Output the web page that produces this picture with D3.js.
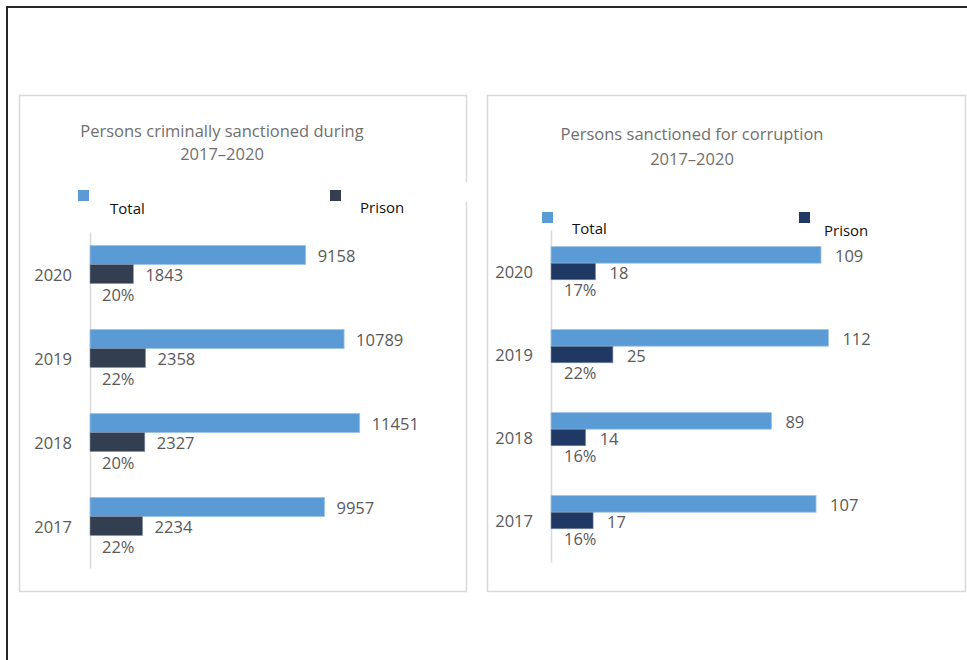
<!DOCTYPE html>
<html>
<head>
<meta charset="utf-8">
<script src="https://cdn.jsdelivr.net/npm/d3@7"></script>
<style>
  html, body { margin: 0; padding: 0; background: #fff; }
  svg { display: block; font-family: "Open Sans", "Liberation Sans", sans-serif; }
</style>
</head>
<body>
<svg id="chart" width="967" height="660"></svg>
<script>
// ---- data ----
const years = ["2020", "2019", "2018", "2017"];
const seriesNames = ["Total", "Prison"];

const criminalTitle = ["Persons criminally sanctioned during", "2017\u20132020"];
const criminalTotal = [9158, 10789, 11451, 9957];
const criminalPrison = [1843, 2358, 2327, 2234];
const criminalShare = ["20%", "22%", "20%", "22%"];

const corruptionTitle = ["Persons sanctioned for corruption", "2017\u20132020"];
const corruptionTotal = [109, 112, 89, 107];
const corruptionPrison = [18, 25, 14, 17];
const corruptionShare = ["17%", "22%", "16%", "16%"];

const svg = d3.select("#chart");

// outer frame (top and left edges)
svg.append("path")
  .attr("d", "M7,660 V7 H967")
  .attr("fill", "none").attr("stroke", "#262626").attr("stroke-width", 2);

function panel(cfg) {
  const g = svg.append("g");
  // panel border
  g.append("rect")
    .attr("x", cfg.box[0] + 0.5).attr("y", cfg.box[1] + 0.5)
    .attr("width", cfg.box[2]).attr("height", cfg.box[3])
    .attr("fill", "#fff").attr("stroke", "#d9d9d9").attr("stroke-width", 1.5);
  if (cfg.borderGap) {
    g.append("rect").attr("x", cfg.borderGap[0]).attr("y", cfg.borderGap[1])
      .attr("width", cfg.borderGap[2]).attr("height", cfg.borderGap[3]).attr("fill", "#fff");
  }
  // title
  cfg.title.forEach((t, i) => {
    g.append("text")
      .attr("x", cfg.titleX).attr("y", cfg.titleY[i])
      .attr("text-anchor", "middle").attr("dominant-baseline", "central")
      .attr("fill", "#6f6f6f").attr("font-size", cfg.titleSize)
      .text(t);
  });
  // legend
  const colors = [cfg.totalColor, cfg.prisonColor];
  seriesNames.forEach((s, i) => {
    const L = cfg.legend[i];
    g.append("rect").attr("x", L.sx).attr("y", L.sy).attr("width", 11).attr("height", 11)
      .attr("fill", colors[i]);
    g.append("text").attr("x", L.tx).attr("y", L.ty)
      .attr("dominant-baseline", "central").attr("fill", "#111")
      .attr("font-size", 15).text(s);
  });

  const x = d3.scaleLinear().domain([0, cfg.xMax]).range([cfg.axisX, cfg.axisX + cfg.xMax * cfg.pxPerUnit]);
  const y = d3.scaleBand().domain(years).range(cfg.yRange)
    .paddingInner(cfg.padInner).paddingOuter(cfg.padInner / 2);
  const sub = d3.scaleBand().domain(["total", "prison", "share"]).range([0, y.bandwidth()]);

  // category axis
  const yAxis = d3.axisLeft(y).tickSize(0).tickPadding(cfg.labelPad);
  const ag = g.append("g").attr("transform", `translate(${cfg.axisX},0)`).call(yAxis);
  ag.select(".domain").attr("stroke", "#d9d9d9").attr("stroke-width", 1.5);
  ag.selectAll("text").attr("fill", "#595959").attr("font-size", 16.5).attr("dy", "0.4em")
    .attr("font-family", "'Open Sans', 'Liberation Sans', sans-serif");

  const rows = years.map((yr, i) => ({ yr, total: cfg.total[i], prison: cfg.prison[i], share: cfg.share[i] }));
  const rg = g.selectAll(".row").data(rows).join("g")
    .attr("transform", d => `translate(0,${y(d.yr)})`);

  rg.append("rect").attr("x", x(0)).attr("y", sub("total"))
    .attr("width", d => x(d.total) - x(0)).attr("height", sub.bandwidth())
    .attr("fill", cfg.totalColor).attr("stroke", "#9dc3e6").attr("stroke-width", 0.8);
  rg.append("rect").attr("x", x(0)).attr("y", sub("prison"))
    .attr("width", d => x(d.prison) - x(0)).attr("height", sub.bandwidth())
    .attr("fill", cfg.prisonColor).attr("stroke", "#8497b0").attr("stroke-width", 0.6);

  const lab = (sel) => sel.attr("dominant-baseline", "central").attr("fill", "#595959").attr("font-size", 16.5);
  rg.append("text").call(lab)
    .attr("x", d => x(d.total) + cfg.valPad).attr("y", sub("total") + sub.bandwidth() / 2 + 1)
    .text(d => d.total);
  rg.append("text").call(lab)
    .attr("x", d => x(d.prison) + cfg.valPad).attr("y", sub("prison") + sub.bandwidth() / 2 + 1)
    .text(d => d.prison);
  rg.append("text").call(lab)
    .attr("x", cfg.axisX + cfg.sharePad).attr("y", sub("share") + sub.bandwidth() / 2 + 1)
    .text(d => d.share);
}

panel({
  box: [19, 95, 447, 496],
  borderGap: [464, 182, 5, 20],
  title: criminalTitle, titleX: 222, titleY: [130, 153], titleSize: 16.5,
  legend: [{ sx: 78, sy: 190, tx: 110, ty: 208 }, { sx: 330, sy: 190, tx: 360, ty: 207 }],
  totalColor: "#5b9bd5", prisonColor: "#333f50",
  axisX: 90, xMax: 14000, pxPerUnit: 0.02355,
  yRange: [232, 568], padInner: 0.32,
  labelPad: 18, valPad: 12, sharePad: 12,
  total: criminalTotal, prison: criminalPrison, share: criminalShare
});

panel({
  box: [487, 95, 478, 496],
  title: corruptionTitle, titleX: 692, titleY: [133, 158], titleSize: 16.5,
  legend: [{ sx: 542, sy: 212, tx: 572, ty: 228 }, { sx: 799, sy: 212, tx: 824, ty: 230 }],
  totalColor: "#5b9bd5", prisonColor: "#203864",
  axisX: 551, xMax: 140, pxPerUnit: 2.477,
  yRange: [230, 562], padInner: 0.4,
  labelPad: 18, valPad: 14, sharePad: 13,
  total: corruptionTotal, prison: corruptionPrison, share: corruptionShare
});
</script>
</body>
</html>
